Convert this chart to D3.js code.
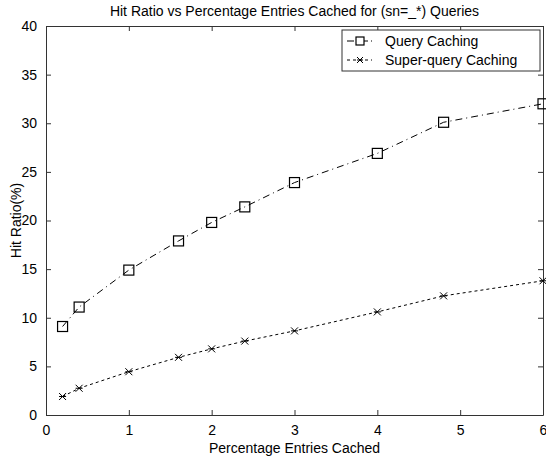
<!DOCTYPE html>
<html>
<head>
<meta charset="utf-8">
<script src="https://cdn.jsdelivr.net/npm/d3@7"></script>
<style>
  body { margin: 0; background: #fff; }
  svg text { font-family: "Liberation Sans", Arial, Helvetica, sans-serif; fill: #000; }
</style>
</head>
<body>
<div class="chart"></div>
<script>
// data
var cachedPct = [0.2, 0.4, 1, 1.6, 2, 2.4, 3, 4, 4.8, 6];
var queryHit = [9.1, 11.1, 14.9, 17.9, 19.8, 21.4, 23.9, 26.9, 30.1, 32.0];
var superHit = [1.9, 2.75, 4.45, 5.93, 6.8, 7.6, 8.65, 10.6, 12.25, 13.8];
var xTicks = [0, 1, 2, 3, 4, 5, 6];
var yTicks = [0, 5, 10, 15, 20, 25, 30, 35, 40];
var seriesNames = ["Query Caching", "Super-query Caching"];

function drawChart() {
  const width = 546;
  const height = 460;
  const margin = {left: 46, right: 3, top: 26, bottom: 45};
  const plotW = width - margin.left - margin.right;
  const plotH = height - margin.top - margin.bottom;

  var svg = d3.select("div.chart")
              .append("svg")
              .attr("width", width)
              .attr("height", height);

  var x = d3.scaleLinear().domain([0, 6]).range([0, plotW]);
  var y = d3.scaleLinear().domain([0, 40]).range([plotH, 0]);

  const chart = svg.append("g")
    .attr("transform", "translate(" + margin.left + "," + margin.top + ")");

  // axes, ticks pointing inward like matlab
  chart.append("g")
    .attr("transform", "translate(0," + plotH + ")")
    .call(d3.axisBottom(x).tickValues(xTicks).tickFormat(d3.format("d"))
      .tickSizeInner(-5).tickSizeOuter(0).tickPadding(10));
  chart.append("g")
    .call(d3.axisLeft(y).tickValues(yTicks).tickFormat(d3.format("d"))
      .tickSizeInner(-5).tickSizeOuter(0).tickPadding(9));
  chart.append("g")
    .call(d3.axisTop(x).tickValues(xTicks).tickSizeInner(-5).tickSizeOuter(0).tickFormat(""));
  chart.append("g")
    .attr("transform", "translate(" + plotW + ",0)")
    .call(d3.axisRight(y).tickValues(yTicks).tickSizeInner(-5).tickSizeOuter(0).tickFormat(""));

  chart.selectAll(".domain").attr("stroke", "#333");
  chart.selectAll(".tick line").attr("stroke", "#333");
  chart.selectAll(".tick text").style("font-size", "14px").attr("fill", "#000");

  var line1 = d3.line()
    .x(function(d, i) { return x(cachedPct[i]); })
    .y(function(d) { return y(d); });

  // query caching: dash-dot with squares
  chart.append("path")
    .datum(queryHit)
    .attr("fill", "none")
    .attr("stroke", "#000")
    .attr("stroke-width", 1)
    .attr("stroke-dasharray", "7,4,1,4")
    .attr("d", line1);

  chart.selectAll("rect.sq")
    .data(queryHit)
    .enter()
    .append("rect")
    .attr("class", "sq")
    .attr("x", function(d, i) { return x(cachedPct[i]) - 5; })
    .attr("y", function(d) { return y(d) - 5; })
    .attr("width", 10)
    .attr("height", 10)
    .attr("fill", "none")
    .attr("stroke", "#000")
    .attr("stroke-width", 1.2);

  // super-query caching: dotted with stars
  chart.append("path")
    .datum(superHit)
    .attr("fill", "none")
    .attr("stroke", "#000")
    .attr("stroke-width", 1)
    .attr("stroke-dasharray", "3,3")
    .attr("d", line1);

  var star = function(cx, cy, r) {
    return "M" + (cx - r) + "," + (cy - r) + "L" + (cx + r) + "," + (cy + r) +
           "M" + (cx - r) + "," + (cy + r) + "L" + (cx + r) + "," + (cy - r) +
           "M" + (cx - r) + "," + cy + "L" + (cx + r) + "," + cy;
  };

  chart.selectAll("path.st")
    .data(superHit)
    .enter()
    .append("path")
    .attr("class", "st")
    .attr("d", function(d, i) { return star(x(cachedPct[i]), y(d), 3.5); })
    .attr("stroke", "#000")
    .attr("stroke-width", 1)
    .attr("fill", "none");

  // legend
  var lx = 342, ly = 30, lw = 198, lh = 41;
  var legend = svg.append("g");
  legend.append("rect")
    .attr("x", lx).attr("y", ly)
    .attr("width", lw).attr("height", lh)
    .attr("fill", "#fff")
    .attr("stroke", "#333");

  var rows = legend.selectAll("g.row")
    .data(seriesNames)
    .enter()
    .append("g")
    .attr("class", "row")
    .attr("transform", function(d, i) {
      return "translate(" + lx + "," + (ly + 11 + i * 19) + ")";
    });

  rows.append("line")
    .attr("x1", 5).attr("x2", 30)
    .attr("y1", 0).attr("y2", 0)
    .attr("stroke", "#000")
    .attr("stroke-dasharray", function(d, i) { return i == 0 ? "7,3,1,3" : "3,3"; });

  rows.each(function(d, i) {
    var g = d3.select(this);
    if (i == 0) {
      g.append("rect").attr("x", 14).attr("y", -4).attr("width", 8).attr("height", 8)
        .attr("fill", "#fff").attr("stroke", "#000").attr("stroke-width", 1.2);
    } else {
      g.append("path").attr("d", star(18, 0, 3)).attr("stroke", "#000").attr("fill", "none");
    }
  });

  rows.append("text")
    .attr("x", 43)
    .attr("y", 5)
    .style("font-size", "14px")
    .text(function(d) { return d; });

  // title and axis labels
  svg.append("text")
    .attr("x", margin.left + plotW / 2)
    .attr("y", 16)
    .attr("text-anchor", "middle")
    .style("font-size", "14px")
    .text("Hit Ratio vs Percentage Entries Cached for (sn=_*) Queries");

  svg.append("text")
    .attr("x", margin.left + plotW / 2)
    .attr("y", 453)
    .attr("text-anchor", "middle")
    .style("font-size", "14px")
    .text("Percentage Entries Cached");

  svg.append("text")
    .attr("transform", "translate(21," + (margin.top + plotH / 2) + ") rotate(-90)")
    .attr("text-anchor", "middle")
    .style("font-size", "14px")
    .text("Hit Ratio(%)");
}

drawChart();
</script>
</body>
</html>
